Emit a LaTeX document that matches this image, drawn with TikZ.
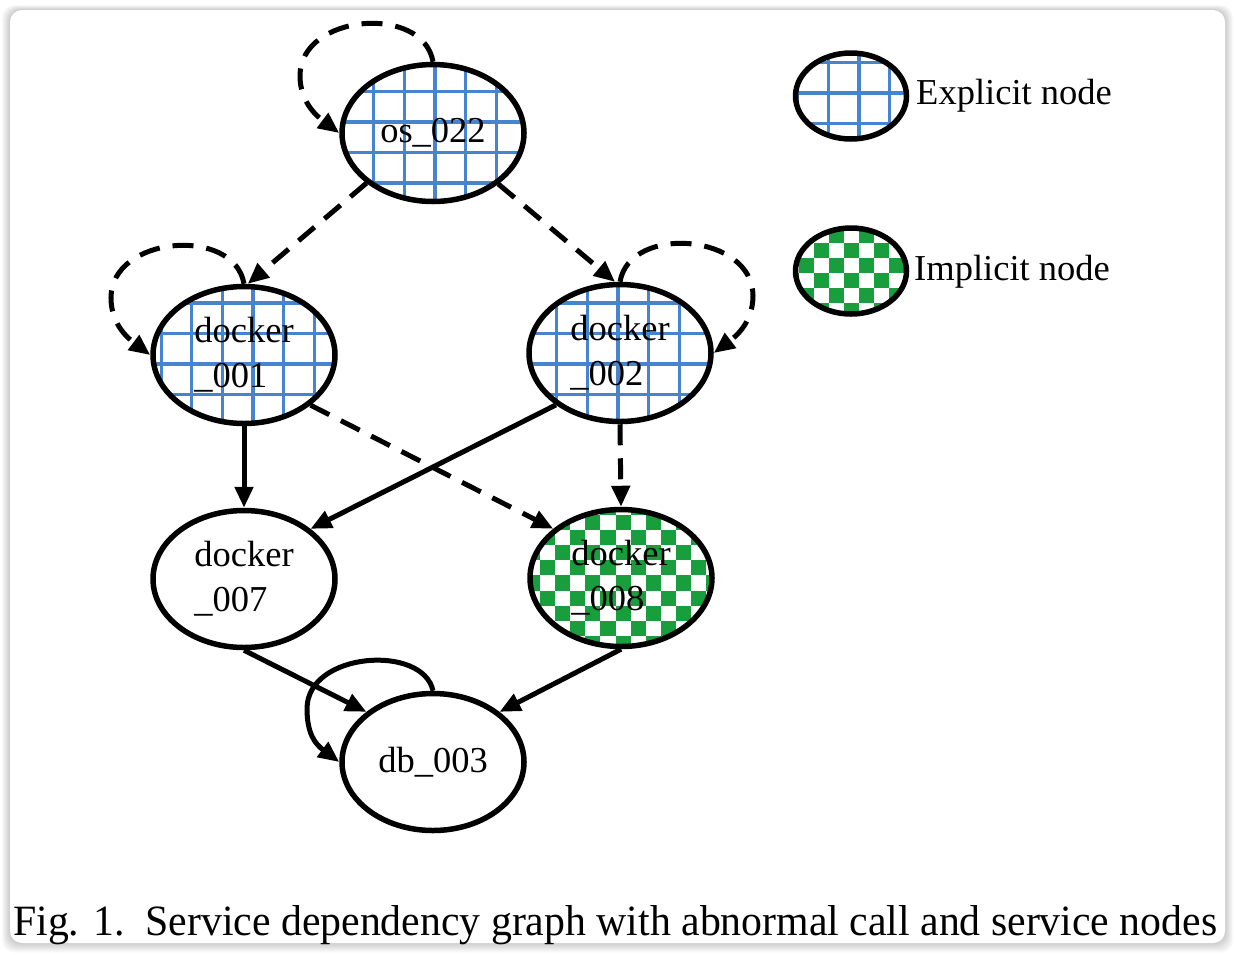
\documentclass[tikz,border=0pt]{standalone}
\usepackage{fontspec}
\usepackage{graphicx}
\setmainfont{Liberation Serif}
\usetikzlibrary{shapes.geometric,arrows.meta}
\pgfdeclarelayer{frame}
\pgfdeclarelayer{bg}
\pgfsetlayers{frame,bg,main}
\definecolor{gridblue}{RGB}{70,132,208}
\definecolor{checkgreen}{RGB}{24,158,60}
\tikzset{
  svc/.style={ellipse, draw=black, line width=5.5pt, minimum width=182pt, minimum height=137pt,
    inner sep=0pt, align=left, font=\fontsize{36.5}{45}\selectfont},
  legnode/.style={ellipse, draw=black, line width=5.5pt, minimum width=111pt, minimum height=86pt, inner sep=0pt},
  edge/.style={line width=5pt, -{Triangle[length=21pt,width=18pt]}},
  dashededge/.style={edge, dash pattern=on 21pt off 13pt},
  gridline/.style={gridblue, line width=3.3pt},
  lbl/.style={font=\fontsize{36.5}{45}\selectfont, anchor=base west, inner sep=0pt}
}
\newcommand\gridpat[5]{%
  \begin{scope}
    \clip (#1.center) ellipse [x radius=#2, y radius=#3];
    \begin{scope}[shift={(#1.center)}]
      \foreach \k in {-4,...,4} {
        \draw[gridline] (#4+30.6*\k, -90) -- (#4+30.6*\k, 90);
        \draw[gridline] (-110, #5+30.5*\k) -- (110, #5+30.5*\k);
      }
    \end{scope}
  \end{scope}}
\newcommand\checkpat[5]{%
  \begin{scope}
    \clip (#1.center) ellipse [x radius=#2, y radius=#3];
    \begin{scope}[shift={(#1.center)}]
      \foreach \i in {-7,...,6} {
        \foreach \j in {-6,...,5} {
          \pgfmathtruncatemacro\cpar{mod(\i+\j+40,2)}
          \ifnum\cpar=0
            \fill[checkgreen] (#4+15.1*\i, #5+15.1*\j) rectangle ++(15.1,15.1);
          \fi
        }
      }
    \end{scope}
  \end{scope}}
\begin{document}
\begin{tikzpicture}[x=1pt,y=-1pt]
\useasboundingbox (0,0) rectangle (1236,954);

% nodes
\node[svc] (os) at (433,133) {os\_022};
\node[svc] (d1) at (244,355) {docker\\\_001};
\node[svc] (d2) at (620,353) {docker\\\_002};
\node[svc] (d7) at (244,579) {docker\\\_007};
\node[svc] (d8) at (621,578) {docker\\\_008};
\node[svc] (db) at (433,762) {db\_003};

\node[legnode] (legE) at (851,96) {};
\node[legnode] (legI) at (851,271) {};
\node[lbl] (legEt) at (916,104) {Explicit node};
\node[lbl] (legIt) at (914,280) {Implicit node};

% edges
\draw[dashededge] (os.217) -- (d1.87);
\draw[dashededge] (os.322) -- (d2.94);
\draw[dashededge] (d1.323) -- (d8.144);
\draw[edge] (d2.219) -- (d7.37);
\draw[edge] (d1.south) -- (d7.north);
\draw[dashededge] (d2.south) -- (d8.north);
\draw[edge] (d7.south) -- (db.143);
\draw[edge] (d8.south) -- (db.37);

% self loops
\draw[dashededge] (os.north) .. controls +(-10,-58) and +(0,-62) .. ++(-133,14)
  .. controls +(0,25) and +(-24,-18) .. (os.west);
\draw[dashededge] (d1.north) .. controls +(-10,-58) and +(0,-62) .. ++(-133,14)
  .. controls +(0,25) and +(-24,-18) .. (d1.west);
\draw[dashededge] (d2.north) .. controls +(10,-58) and +(0,-62) .. ++(133,14)
  .. controls +(0,25) and +(24,-18) .. (d2.east);
\draw[edge] (db.north) .. controls +(-10,-47) and +(0,-57) .. ++(-126,18)
  .. controls +(0,25) and +(-24,-18) .. (db.west);

% caption
\node[anchor=base west, inner sep=0pt] (cap) at (13,935)
  {\resizebox{1204pt}{30pt}{\fontsize{42}{50}\selectfont Fig. 1.\ \ Service dependency graph with abnormal call and service nodes}};

% patterns
\begin{pgfonlayer}{bg}
  \gridpat{os}{91}{68.5}{2}{-11}
  \gridpat{d1}{91}{68.5}{9}{9}
  \gridpat{d2}{91}{68.5}{-2}{11}
  \gridpat{legE}{55.5}{43}{8}{-3}
  \checkpat{d8}{91}{68.5}{-5.5}{-2.6}
  \checkpat{legI}{55.5}{43}{-7}{2}
\end{pgfonlayer}

% frame
\begin{pgfonlayer}{frame}
  \fill[white] (0,0) rectangle (1236,954);
  \foreach \k in {1,...,8} {
    \fill[black, opacity=0.025, rounded corners=12pt] (10-\k,10-0.6*\k) rectangle (1225+\k,943+1.2*\k);
  }
  \fill[white, rounded corners=12pt] (10,10) rectangle (1225,943);
\end{pgfonlayer}
\end{tikzpicture}
\end{document}
